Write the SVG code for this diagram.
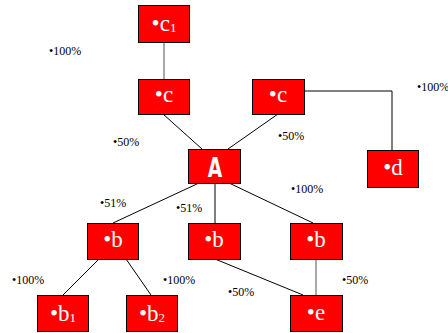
<svg xmlns="http://www.w3.org/2000/svg" width="448" height="333" viewBox="0 0 448 333">
  <style>
    .node rect { fill: #ff0000; stroke: #000000; stroke-width: 1; }
    .lbl { font-family: "Liberation Serif", "Times New Roman", serif; font-size: 23px; fill: #ffffff; text-anchor: middle; }
    .sub { font-size: 13px; }
    .big { font-family: "Liberation Sans Narrow", "DejaVu Sans Condensed", sans-serif; font-weight: bold; font-size: 26px; fill: #ffffff; text-anchor: middle; }
    .pct { font-family: "Liberation Serif", "Times New Roman", serif; font-size: 12px; fill: #000000; }
    .edges line, .edges polyline { stroke: #000000; stroke-width: 1; fill: none; }
    .edges .grey { stroke: #555555; }
  </style>
  <rect width="448" height="333" fill="#ffffff"/>

  <!-- connectors -->
  <g id="connectors" class="edges">
    <line class="grey" x1="164" y1="42" x2="164" y2="79"/>
    <line x1="163" y1="114" x2="202" y2="149"/>
    <line x1="278" y1="114" x2="228" y2="149"/>
    <polyline points="304,91 392,91 392,150"/>
    <line x1="199" y1="183" x2="113" y2="223"/>
    <line x1="215" y1="183" x2="215" y2="223"/>
    <line x1="229" y1="183" x2="313" y2="223"/>
    <line x1="99" y1="259" x2="63" y2="295"/>
    <line x1="126" y1="259" x2="151" y2="295"/>
    <line x1="215" y1="259" x2="303" y2="295"/>
    <line class="grey" x1="316" y1="259" x2="316" y2="295"/>
  </g>

  <!-- nodes -->
  <g id="node-c1" class="node">
    <rect x="138.5" y="5.5" width="51" height="37"/>
    <text class="lbl" x="164" y="31">•c<tspan class="sub" dy="1">1</tspan></text>
  </g>
  <g id="node-c-left" class="node">
    <rect x="138.5" y="79.5" width="51" height="35"/>
    <text class="lbl" x="164" y="102">•c</text>
  </g>
  <g id="node-c-right" class="node">
    <rect x="252.5" y="79.5" width="52" height="35"/>
    <text class="lbl" x="278" y="102">•c</text>
  </g>
  <g id="node-d" class="node">
    <rect x="367.5" y="150.5" width="51" height="37"/>
    <text class="lbl" x="393" y="175">•d</text>
  </g>
  <g id="node-A" class="node">
    <rect x="188.5" y="149.5" width="52" height="34"/>
    <text class="big" x="215" y="177" transform="translate(215 0) scale(0.8 1) translate(-215 0)">A</text>
  </g>
  <g id="node-b-left" class="node">
    <rect x="87.5" y="223.5" width="51" height="36"/>
    <text class="lbl" x="113" y="247">•b</text>
  </g>
  <g id="node-b-mid" class="node">
    <rect x="188.5" y="223.5" width="52" height="36"/>
    <text class="lbl" x="214" y="247">•b</text>
  </g>
  <g id="node-b-right" class="node">
    <rect x="290.5" y="223.5" width="52" height="36"/>
    <text class="lbl" x="316" y="247">•b</text>
  </g>
  <g id="node-b1" class="node">
    <rect x="37.5" y="295.5" width="51" height="36"/>
    <text class="lbl" x="63" y="321">•b<tspan class="sub" dy="1">1</tspan></text>
  </g>
  <g id="node-b2" class="node">
    <rect x="126.5" y="295.5" width="51" height="36"/>
    <text class="lbl" x="152" y="321">•b<tspan class="sub" dy="1">2</tspan></text>
  </g>
  <g id="node-e" class="node">
    <rect x="290.5" y="295.5" width="52" height="36"/>
    <text class="lbl" x="316" y="320">•e</text>
  </g>

  <!-- percentages -->
  <g id="percentages">
    <text class="pct" x="49" y="55">•100%</text>
    <text class="pct" x="113" y="146">•50%</text>
    <text class="pct" x="278" y="140">•50%</text>
    <text class="pct" x="417" y="91">•100%</text>
    <text class="pct" x="291" y="193">•100%</text>
    <text class="pct" x="100" y="207">•51%</text>
    <text class="pct" x="176" y="212">•51%</text>
    <text class="pct" x="12" y="284">•100%</text>
    <text class="pct" x="163" y="284">•100%</text>
    <text class="pct" x="228" y="296">•50%</text>
    <text class="pct" x="342" y="284">•50%</text>
  </g>
</svg>
